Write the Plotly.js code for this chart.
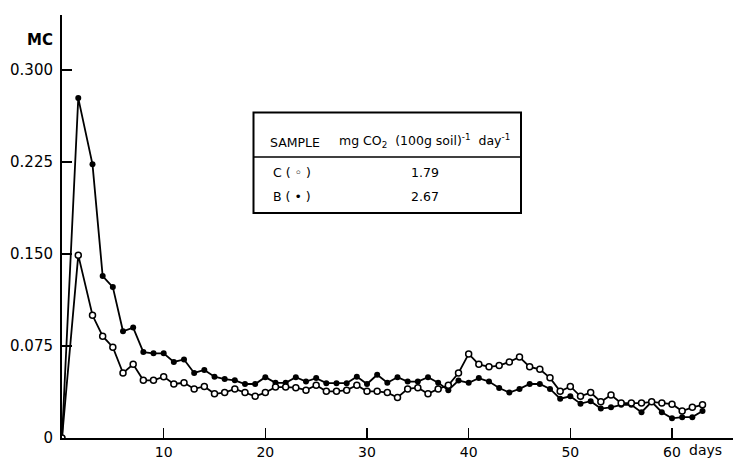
<!DOCTYPE html>
<html>
<head>
<meta charset="utf-8">
<script src="https://cdn.plot.ly/plotly-3.0.1.min.js"></script>
<style>html,body{margin:0;padding:0;background:#fff;}#chart{width:733px;height:459px;}</style>
</head>
<body>
<div id="chart"></div>
<script>
// ---- data ----
const days = [0, 1.6, 3, 4, 5, 6, 7, 8, 9, 10, 11, 12, 13, 14, 15, 16, 17, 18, 19, 20,
  21, 22, 23, 24, 25, 26, 27, 28, 29, 30, 31, 32, 33, 34, 35, 36, 37, 38, 39, 40,
  41, 42, 43, 44, 45, 46, 47, 48, 49, 50, 51, 52, 53, 54, 55, 56, 57, 58, 59, 60,
  61, 62, 63];
const sampleB = [0, 0.277, 0.223, 0.132, 0.123, 0.087, 0.090, 0.070, 0.069, 0.069,
  0.062, 0.064, 0.053, 0.0555, 0.050, 0.048, 0.047, 0.044, 0.044, 0.0496,
  0.045, 0.045, 0.0496, 0.046, 0.0488, 0.0447, 0.0447, 0.0447, 0.050, 0.044,
  0.0515, 0.045, 0.0496, 0.046, 0.046, 0.0496, 0.045, 0.039, 0.0468, 0.045,
  0.0488, 0.046, 0.0407, 0.037, 0.040, 0.044, 0.044, 0.040, 0.032, 0.034,
  0.028, 0.030, 0.024, 0.025, 0.027, 0.027, 0.021, 0.0295, 0.021, 0.016,
  0.017, 0.017, 0.022];
const sampleC = [0, 0.149, 0.100, 0.083, 0.074, 0.053, 0.060, 0.047, 0.047, 0.050,
  0.044, 0.045, 0.040, 0.042, 0.036, 0.037, 0.040, 0.037, 0.034, 0.037,
  0.0415, 0.0415, 0.041, 0.039, 0.043, 0.038, 0.038, 0.039, 0.043, 0.038,
  0.038, 0.037, 0.033, 0.040, 0.041, 0.036, 0.040, 0.043, 0.053, 0.0685,
  0.060, 0.058, 0.059, 0.062, 0.066, 0.058, 0.056, 0.049, 0.038, 0.042,
  0.034, 0.037, 0.0295, 0.035, 0.0285, 0.0285, 0.0285, 0.0295, 0.0285, 0.0276,
  0.022, 0.025, 0.027];
const yTickVals = [0, 0.075, 0.150, 0.225, 0.300];
const yTickText = ["0", "0.075", "0.150", "0.225", "0.300"];
const xTickVals = [10, 20, 30, 40, 50, 60];
const xTickText = ["10", "20", "30", "40", "50", "60"];
const tableHeader = ["SAMPLE", "mg CO<sub>2</sub>  (100g soil)<sup>-1</sup>  day<sup>-1</sup>"];
const tableSamples = ["C ( \u25E6 )", "B ( \u2022 )"];
const tableRates = ["1.79", "2.67"];

// ---- layout helpers (pixel -> paper) ----
const W = 733, H = 459;
const M = {l: 62, r: 0, t: 15, b: 21};
const px = x => (x - M.l) / (W - M.l - M.r);
const py = y => (H - M.b - y) / (H - M.t - M.b);

const FONT = "DejaVu Sans, Liberation Sans, sans-serif";

const traces = [
  {x: days, y: sampleB, mode: "lines+markers", name: "B",
   line: {color: "#000", width: 1.8},
   marker: {symbol: "circle", size: 6, color: "#000"}},
  {x: days, y: sampleC, mode: "lines+markers", name: "C",
   line: {color: "#000", width: 1.8},
   marker: {symbol: "circle", size: 6, color: "#fff", line: {color: "#000", width: 1.5}}}
];

const annotations = [
  {text: "MC", xref: "paper", x: 0, xanchor: "right", xshift: -7,
   yref: "paper", y: py(40), yanchor: "middle", showarrow: false,
   font: {family: FONT, size: 15, color: "#000", weight: "bold"}},
  {text: "days", xref: "paper", x: px(687), xanchor: "left",
   yref: "paper", y: py(450), yanchor: "middle", showarrow: false,
   font: {family: FONT, size: 14, color: "#000"}},
  {text: tableHeader[0], xref: "paper", x: px(268), xanchor: "left",
   yref: "paper", y: py(142), yanchor: "middle", showarrow: false,
   font: {family: FONT, size: 12.5, color: "#000"}},
  {text: tableHeader[1], xref: "paper", x: px(337), xanchor: "left",
   yref: "paper", y: py(141), yanchor: "middle", showarrow: false,
   font: {family: FONT, size: 12.5, color: "#000"}},
  {text: tableSamples[0], xref: "paper", x: px(271), xanchor: "left",
   yref: "paper", y: py(172), yanchor: "middle", showarrow: false,
   font: {family: FONT, size: 12.5, color: "#000"}},
  {text: tableSamples[1], xref: "paper", x: px(271), xanchor: "left",
   yref: "paper", y: py(197), yanchor: "middle", showarrow: false,
   font: {family: FONT, size: 12.5, color: "#000"}},
  {text: tableRates[0], xref: "paper", x: px(425), xanchor: "center",
   yref: "paper", y: py(172), yanchor: "middle", showarrow: false,
   font: {family: FONT, size: 12.5, color: "#000"}},
  {text: tableRates[1], xref: "paper", x: px(425), xanchor: "center",
   yref: "paper", y: py(197), yanchor: "middle", showarrow: false,
   font: {family: FONT, size: 12.5, color: "#000"}}
];

const shapes = [
  {type: "rect", xref: "paper", yref: "paper", x0: px(253.5), x1: px(521), y0: py(213), y1: py(112.5),
   line: {color: "#000", width: 2}, fillcolor: "#fff", layer: "below"},
  {type: "line", xref: "paper", yref: "paper", x0: px(253.5), x1: px(521), y0: py(157), y1: py(157),
   line: {color: "#000", width: 1.5}}
];

const layout = {
  width: W, height: H,
  margin: M,
  paper_bgcolor: "#fff", plot_bgcolor: "#fff",
  showlegend: false,
  font: {family: FONT, size: 15, color: "#000"},
  xaxis: {range: [0, 66], showgrid: false, zeroline: false,
    showline: true, linecolor: "#000", linewidth: 2,
    ticks: "inside", ticklen: 10, tickwidth: 1.5, tickcolor: "#000",
    tickvals: xTickVals, ticktext: xTickText, ticklabelstandoff: 0,
    tickfont: {family: FONT, size: 14, color: "#000"}},
  yaxis: {range: [0, 0.3447], showgrid: false, zeroline: false,
    showline: true, linecolor: "#000", linewidth: 2,
    ticks: "inside", ticklen: 10, tickwidth: 1.5, tickcolor: "#000",
    tickvals: yTickVals, ticktext: yTickText, ticklabelstandoff: 4,
    tickfont: {family: FONT, size: 15, color: "#000"}},
  shapes: shapes,
  annotations: annotations
};

Plotly.newPlot("chart", traces, layout, {displayModeBar: false, staticPlot: true});
</script>
</body>
</html>
